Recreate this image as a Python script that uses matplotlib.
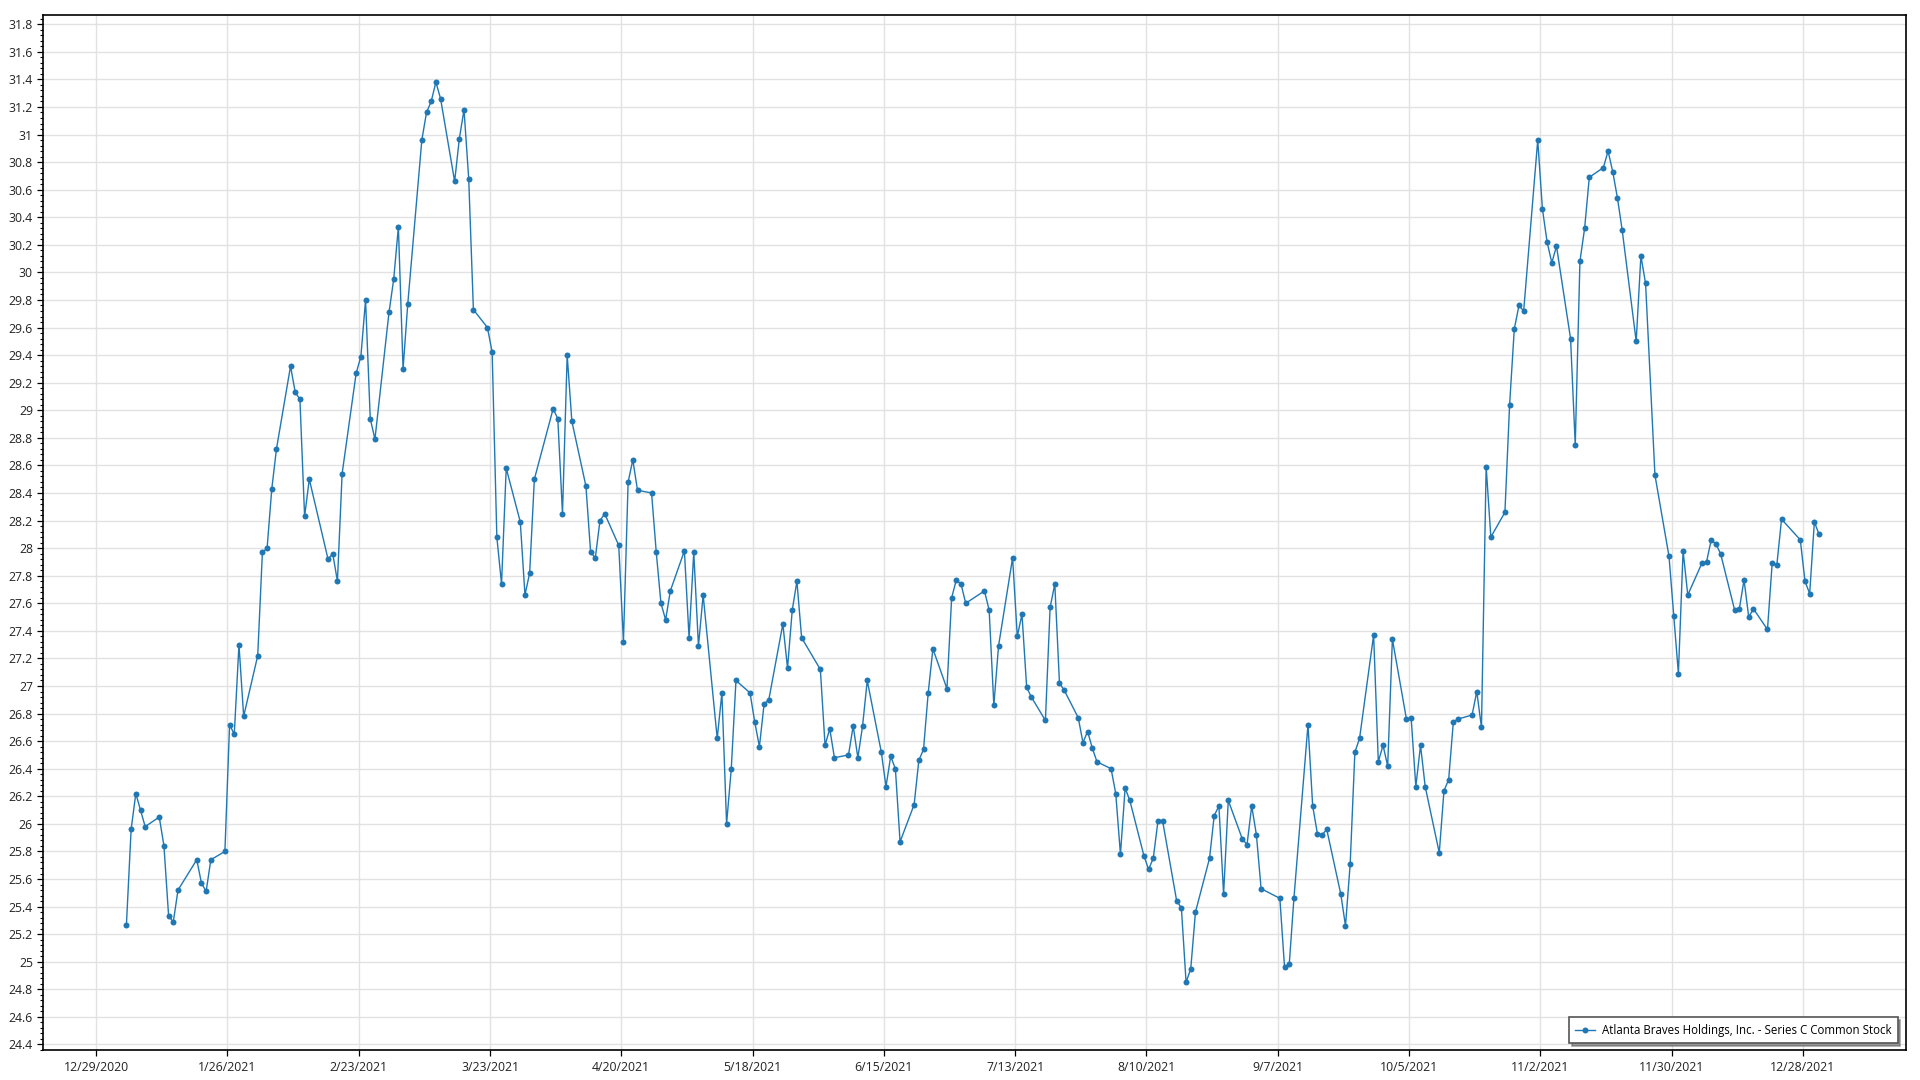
"""Daily close of Atlanta Braves Holdings, Inc. - Series C Common Stock, 2021."""
import numpy as np
import pandas as pd
import matplotlib
matplotlib.use("Agg")
import matplotlib.pyplot as plt
import matplotlib.dates as mdates
from matplotlib.ticker import FuncFormatter, MultipleLocator

plt.rcParams["font.family"] = ["Open Sans", "DejaVu Sans"]

SERIES = "Atlanta Braves Holdings, Inc. - Series C Common Stock"

# NYSE holidays 2021 (no trading on these days)
HOLIDAYS = ["2021-01-01", "2021-01-18", "2021-02-15", "2021-04-02", "2021-05-31",
            "2021-07-05", "2021-09-06", "2021-11-25", "2021-12-24"]

# closing prices, one list per month (trading days only)
jan = [25.27, 25.96, 26.22, 26.10, 25.98, 26.05, 25.84, 25.33, 25.29, 25.52,
       25.74, 25.57, 25.51, 25.74, 25.80, 26.72, 26.65, 27.30, 26.78]
feb = [27.22, 27.97, 28.00, 28.43, 28.72, 29.32, 29.13, 29.08, 28.23, 28.50,
       27.92, 27.96, 27.76, 28.54, 29.27, 29.39, 29.80, 28.94, 28.79]
mar = [29.71, 29.95, 30.33, 29.30, 29.77, 30.96, 31.16, 31.24, 31.38, 31.26,
       30.66, 30.97, 31.18, 30.68, 29.73, 29.60, 29.42, 28.08, 27.74, 28.58,
       28.19, 27.66, 27.82]
apr = [28.50, 29.01, 28.94, 28.25, 29.40, 28.92, 28.45, 27.97, 27.93, 28.20,
       28.25, 28.02, 27.32, 28.48, 28.64, 28.42, 28.40, 27.97, 27.60, 27.48,
       27.69]
may = [27.98, 27.35, 27.97, 27.29, 27.66, 26.62, 26.95, 26.00, 26.40, 27.04,
       26.95, 26.74, 26.56, 26.87, 26.90, 27.45, 27.13, 27.55, 27.76, 27.35]
jun = [27.12, 26.57, 26.69, 26.48, 26.50, 26.71, 26.48, 26.71, 27.04, 26.52,
       26.27, 26.49, 26.40, 25.87, 26.14, 26.46, 26.54, 26.95, 27.27, 26.98,
       27.64, 27.77]
jul = [27.74, 27.60, 27.69, 27.55, 26.86, 27.29, 27.93, 27.36, 27.52, 26.99,
       26.92, 26.75, 27.57, 27.74, 27.02, 26.97, 26.77, 26.59, 26.67, 26.55,
       26.45]
aug = [26.40, 26.22, 25.78, 26.26, 26.17, 25.77, 25.67, 25.75, 26.02, 26.02,
       25.44, 25.39, 24.85, 24.95, 25.36, 25.75, 26.06, 26.13, 25.49, 26.17,
       25.89, 25.85]
sep = [26.13, 25.92, 25.53, 25.46, 24.96, 24.98, 25.46, 26.72, 26.13, 25.93,
       25.92, 25.96, 25.49, 25.26, 25.71, 26.52, 26.62, 27.37, 26.45, 26.57,
       26.42]
oct_ = [27.34, 26.76, 26.77, 26.27, 26.57, 26.27, 25.79, 26.24, 26.32, 26.74,
        26.76, 26.79, 26.96, 26.70, 28.59, 28.08, 28.26, 29.04, 29.59, 29.76,
        29.72]
nov = [30.96, 30.46, 30.22, 30.07, 30.19, 29.52, 28.75, 30.08, 30.32, 30.69,
       30.76, 30.88, 30.73, 30.54, 30.31, 29.50, 30.12, 29.92, 28.53, 27.94,
       27.51]
dec = [27.09, 27.98, 27.66, 27.89, 27.90, 28.06, 28.03, 27.96, 27.55, 27.56,
       27.77, 27.50, 27.56, 27.41, 27.89, 27.88, 28.21, 28.06, 27.76, 27.67,
       28.19, 28.10]

close = jan + feb + mar + apr + may + jun + jul + aug + sep + oct_ + nov + dec
# points sit about half a day right of the midnight grid lines in the source
dates = pd.bdate_range("2021-01-04", "2021-12-31", freq="C",
                       holidays=HOLIDAYS) + pd.Timedelta(hours=11)
assert len(dates) == len(close)

BLUE = "#1f77b4"
GRID = "#e2e2e2"


def fmt_price(v, _pos):
    return f"{v:.1f}".rstrip("0").rstrip(".")


def fmt_date(x, _pos):
    d = mdates.num2date(x)
    return f"{d.month}/{d.day}/{d.year}"


def main():
    fig = plt.figure(figsize=(19.2, 10.8), dpi=100)
    ax = fig.add_axes((0.0222, 0.0278, 0.9703, 0.9583))

    ax.plot(dates, close, "-o", color=BLUE, lw=1.0, ms=4.3,
            markeredgewidth=0, label=SERIES, zorder=3)

    ax.set_xlim(pd.Timestamp("2020-12-17 14:00"), pd.Timestamp("2022-01-18 22:00"))
    ax.set_ylim(24.36, 31.867)

    # x: every 4 weeks starting 12/29/2020
    ticks = pd.date_range("2020-12-29", "2022-01-20", freq="28D")
    ax.set_xticks(ticks)
    ax.xaxis.set_major_formatter(FuncFormatter(fmt_date))
    ax.yaxis.set_major_locator(MultipleLocator(0.2))
    ax.yaxis.set_minor_locator(MultipleLocator(0.04))
    ax.yaxis.set_major_formatter(FuncFormatter(fmt_price))

    ax.grid(True, which="major", color=GRID, lw=1.0, zorder=0)
    ax.set_axisbelow(True)
    ax.tick_params(axis="both", which="major", direction="out", length=4,
                   width=0.9, color="black", labelsize=8.8, labelcolor="#222222", pad=3)
    ax.tick_params(axis="y", which="minor", direction="out", length=2.2, width=0.8)
    ax.tick_params(axis="x", which="major", pad=4)
    for sp in ax.spines.values():
        sp.set_color("black")
        sp.set_linewidth(1.2)

    leg = ax.legend(loc="lower right", bbox_to_anchor=(1 - 8 / 1863, 7 / 1035),
                    borderaxespad=0, fontsize=8.3, fancybox=False, shadow=True,
                    frameon=True, edgecolor="#555555", handlelength=1.7,
                    handletextpad=0.6, borderpad=0.55)
    leg.get_frame().set_linewidth(1.2)

    fig.savefig("out.png", dpi=100, facecolor="white")
    plt.close(fig)


if __name__ == "__main__":
    main()
